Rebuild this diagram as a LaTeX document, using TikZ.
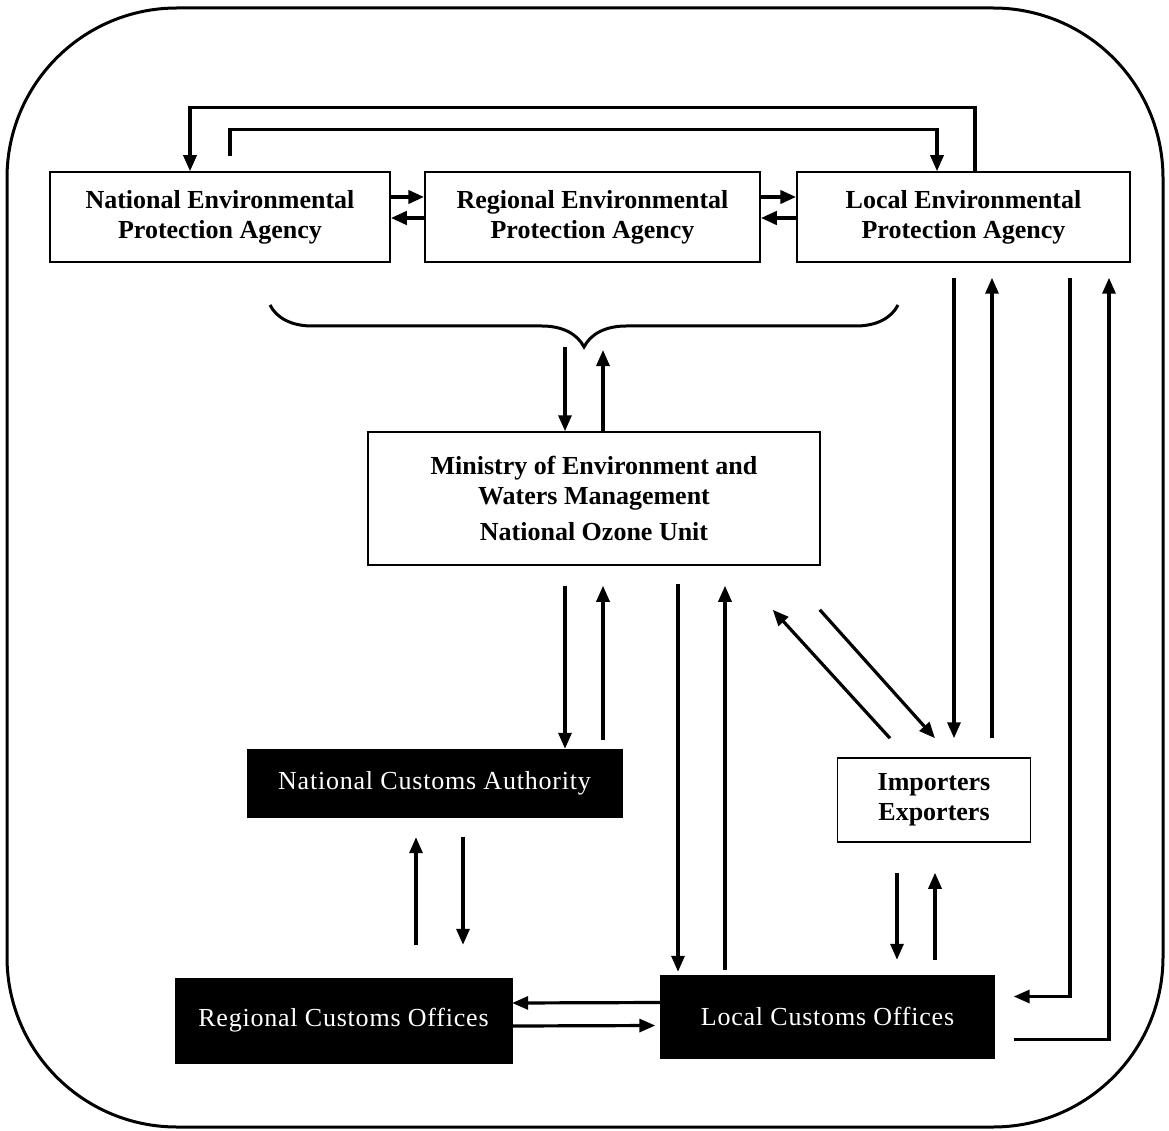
\documentclass[tikz,border=0pt]{standalone}
\usepackage{fontspec}
\setmainfont{Liberation Serif}
\newfontfamily\customsfont[LetterSpace=3]{Liberation Serif}
\usetikzlibrary{arrows.meta, calc, decorations.pathreplacing}

\begin{document}
\begin{tikzpicture}[
    x=1pt, y=-1pt,
    >={Triangle[length=16pt, width=13pt]},
    whitebox/.style={rectangle, draw, line width=1.5pt, inner sep=0pt, align=center, font=\fontsize{26}{30}\selectfont\bfseries},
    blackbox/.style={rectangle, draw=black, fill=black, inner sep=0pt, align=center, text=white, font=\fontsize{26}{30}\selectfont\customsfont},
    arrow/.style={->, line width=3.2pt},
    thickarrow/.style={->, line width=4.5pt},
    frame/.style={line width=3pt, rounded corners=170pt},
    bracket/.style={line width=3pt, decorate, decoration={brace, mirror, amplitude=42pt}}
]
\useasboundingbox (0,0) rectangle (1169,1131);

% Frame
\draw[frame] (7,8) rectangle (1163,1127);

% Environmental protection agencies
\node[whitebox, minimum width=340pt, minimum height=90pt] (nepa) at (220, 217) {National Environmental\\Protection Agency};
\node[whitebox, minimum width=335pt, minimum height=90pt] (repa) at (592.5, 217) {Regional Environmental\\Protection Agency};
\node[whitebox, minimum width=333pt, minimum height=90pt] (lepa) at (963.5, 217) {Local Environmental\\Protection Agency};

% Ministry
\node[whitebox, minimum width=452pt, minimum height=133pt] (ministry) at (594, 498.5) {
    Ministry of Environment and\\
    Waters Management\\[6pt]
    National Ozone Unit
};

% Importers / exporters
\node[whitebox, minimum width=193pt, minimum height=84pt] (ie) at (934, 800) {Importers\\Exporters};

% Customs
\node[blackbox, minimum width=375pt, minimum height=68pt] (nca) at (434.5, 783) {National Customs Authority};
\node[blackbox, minimum width=337pt, minimum height=85pt] (rco) at (343.5, 1020.5) {Regional Customs Offices};
\node[blackbox, minimum width=334pt, minimum height=83pt] (lco) at (827.5, 1016.5) {Local Customs Offices};

% Arrows between the agencies
\draw[thickarrow] ($(nepa.east)+(0,-20)$) -- ($(repa.west)+(0,-20)$);
\draw[thickarrow] ($(repa.west)+(0,1)$) -- ($(nepa.east)+(0,1)$);
\draw[thickarrow] ($(repa.east)+(0,-20)$) -- ($(lepa.west)+(0,-20)$);
\draw[thickarrow] ($(lepa.west)+(0,1)$) -- ($(repa.east)+(0,1)$);
\draw[arrow] ($(lepa.north)+(11.5,0)$) -- ++(0,-64) -| ($(nepa.north)+(-30,0)$);
\draw[arrow] ($(nepa.north)+(10,-15)$) -- ++(0,-27) -| ($(lepa.north)+(-26.5,0)$);

% Brace over the agencies
\draw[bracket] (270,305) -- (898,305);
\coordinate (btip) at (584,347);
\draw[arrow] ($(btip)+(-19,0)$) -- ($(ministry.north)+(-29,0)$);
\draw[arrow] ($(ministry.north)+(9,0)$) -- ($(btip)+(19,3)$);

% Ministry and customs
\draw[arrow] ($(ministry.south)+(-29,20)$) -- ($(nca.north)+(130.5,0)$);
\draw[arrow] ($(nca.north)+(168.5,-9)$) -- ($(ministry.south)+(9,20)$);
\draw[arrow] ($(ministry.south)+(84,18)$) -- ($(lco.north)+(-149.5,-3)$);
\draw[arrow] ($(lco.north)+(-102.5,-5)$) -- ($(ministry.south)+(131,20)$);

% Ministry and importers
\draw[arrow] ($(ie.north)+(-44,-19)$) -- ($(ministry.south east)+(-48,44)$);
\draw[arrow] ($(ministry.south east)+(-1,44)$) -- ($(ie.north)+(1,-19)$);

% Local agency links
\draw[arrow] ($(lepa.south)+(-9.5,15)$) -- ($(ie.north)+(20,-19)$);
\draw[arrow] ($(ie.north)+(58,-19)$) -- ($(lepa.south)+(28.5,15)$);
\draw[arrow] ($(lepa.south)+(106.5,15)$) |- ($(lco.east)+(19,-20)$);
\draw[arrow] ($(lco.east)+(19,23)$) -| ($(lepa.south)+(145.5,15)$);

% Importers and local customs
\draw[arrow] ($(ie.south)+(-37,30)$) -- ($(lco.north)+(69.5,-15)$);
\draw[arrow] ($(lco.north)+(107.5,-15)$) -- ($(ie.south)+(1,30)$);

% Customs hierarchy
\draw[arrow] ($(rco.north)+(72.5,-33)$) -- ($(nca.south)+(-18.5,20)$);
\draw[arrow] ($(nca.south)+(28.5,20)$) -- ($(rco.north)+(119.5,-33)$);
\draw[arrow] ($(lco.west)+(0,-14)$) -- ($(rco.east)+(0,-17.5)$);
\draw[arrow] ($(rco.east)+(0,5.5)$) -- ($(lco.west)+(-5,9)$);

\end{tikzpicture}
\end{document}
